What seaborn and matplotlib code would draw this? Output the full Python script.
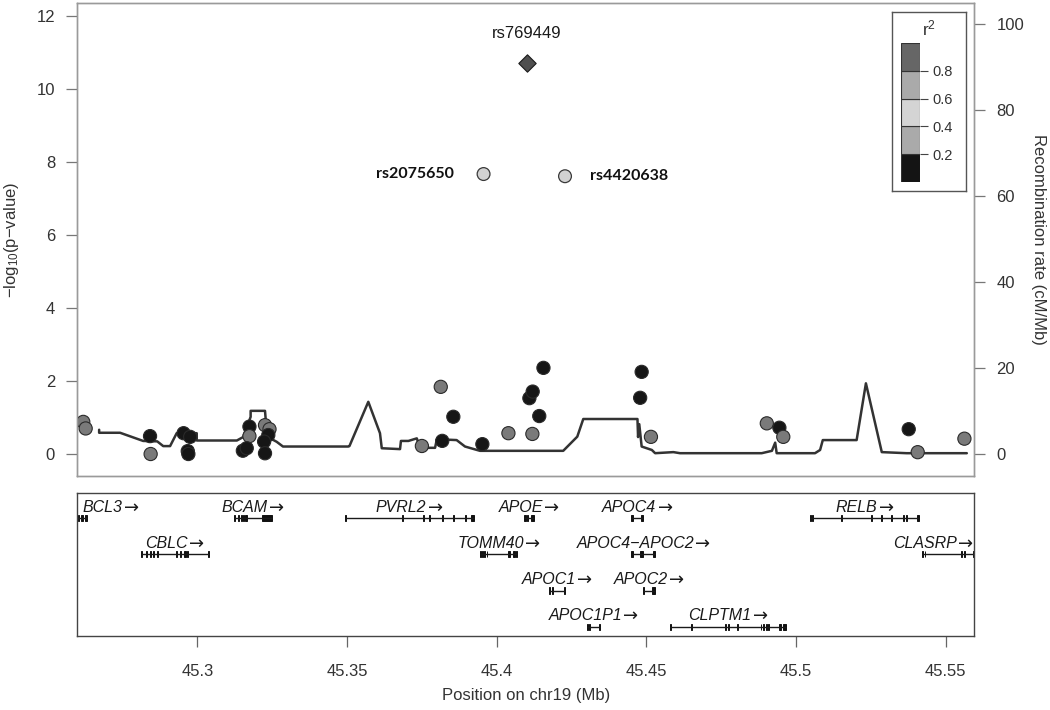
############################################################
# REGIONAL ASSOCIATION PLOT – APOE LOCUS (chr19)
############################################################

import matplotlib
matplotlib.use("Agg")
import pandas as pd
import matplotlib.pyplot as plt
import seaborn as sns

sns.set_style("white")
plt.rcParams["font.family"] = ["Liberation Sans", "DejaVu Sans"]
plt.rcParams["mathtext.fontset"] = "custom"
plt.rcParams["mathtext.rm"] = "Liberation Sans"
plt.rcParams["mathtext.default"] = "regular"

# =========================
# DATA
# =========================
# SNPs (position in Mb, -log10 p, r2 class)
snp_pos = [45.2619, 45.2627, 45.2842, 45.2844, 45.2954, 45.2976, 45.2968, 45.2970,
           45.3174, 45.3174, 45.3152, 45.3165, 45.3226, 45.3241, 45.3237, 45.3223,
           45.3226, 45.3750, 45.3813, 45.3818, 45.3855, 45.3952, 45.4039, 45.4119,
           45.4109, 45.4120, 45.4156, 45.4142, 45.4484, 45.4479, 45.4515, 45.4902,
           45.4944, 45.4957, 45.5376, 45.5406, 45.5562]
snp_logp = [0.88, 0.70, 0.49, 0.00, 0.57, 0.47, 0.08, 0.00,
            0.75, 0.49, 0.09, 0.16, 0.79, 0.68, 0.52, 0.34,
            0.02, 0.22, 1.84, 0.36, 1.02, 0.27, 0.57, 0.55,
            1.53, 1.71, 2.36, 1.04, 2.25, 1.54, 0.47, 0.84,
            0.72, 0.47, 0.68, 0.05, 0.42]
snp_r2 = ["mid", "mid", "low", "mid", "low", "low", "low", "low",
          "low", "mid", "low", "low", "mid", "mid", "low", "low",
          "low", "mid", "mid", "low", "low", "low", "mid", "mid",
          "low", "low", "low", "low", "low", "low", "mid", "mid",
          "low", "mid", "low", "mid", "mid"]

# labelled SNPs
lead_names = ["rs769449", "rs2075650", "rs4420638"]
lead_pos = [45.4100, 45.3956, 45.4228]
lead_logp = [10.71, 7.67, 7.61]
lead_r2 = ["top", "light", "light"]

# recombination rate (cM/Mb)
recomb_pos = [45.2672, 45.2672, 45.2742, 45.2819, 45.2866, 45.2886, 45.2909, 45.2931,
              45.2998, 45.2998, 45.3132, 45.3153, 45.3178, 45.3178, 45.3226, 45.3233,
              45.3265, 45.3286, 45.3504, 45.3508, 45.3571, 45.3610, 45.3616, 45.3677,
              45.3680, 45.3705, 45.3733, 45.3744, 45.3794, 45.3800, 45.3866, 45.3894,
              45.3944, 45.4222, 45.4269, 45.4289, 45.4470, 45.4472, 45.4476, 45.4484,
              45.4518, 45.4529, 45.4590, 45.4612, 45.4885, 45.4919, 45.4930, 45.4935,
              45.5063, 45.5080, 45.5089, 45.5202, 45.5233, 45.5286, 45.5369, 45.5570]
recomb_rate = [5.7, 5.0, 5.0, 3.1, 3.0, 1.9, 1.9, 4.9,
               4.9, 3.2, 3.2, 4.0, 8.7, 10.1, 10.1, 4.1,
               2.9, 1.8, 1.8, 1.9, 12.2, 4.9, 1.4, 1.2,
               3.1, 3.1, 3.7, 1.5, 1.5, 3.5, 3.3, 1.8,
               0.8, 0.8, 4.1, 8.2, 8.2, 4.0, 7.0, 1.8,
               1.0, 0.25, 0.5, 0.25, 0.25, 0.8, 2.7, 0.25,
               0.25, 1.0, 3.3, 3.3, 16.5, 0.5, 0.25, 0.25]

# genes: name, start, end, row, exons
gene_names = ["BCL3", "CBLC", "BCAM", "PVRL2", "TOMM40", "APOE", "APOC1",
              "APOC1P1", "APOC4", "APOC4\u2212APOC2", "APOC2", "CLPTM1", "RELB", "CLASRP"]
gene_start = [45.2510, 45.2811, 45.3123, 45.3493, 45.3944, 45.4090, 45.4175,
              45.4301, 45.4451, 45.4451, 45.4490, 45.4579, 45.5046, 45.5423]
gene_end = [45.2633, 45.3039, 45.3248, 45.3924, 45.4069, 45.4126, 45.4228,
            45.4345, 45.4490, 45.4529, 45.4529, 45.4966, 45.5411, 45.5744]
gene_row = [1, 2, 1, 1, 2, 1, 3, 4, 1, 2, 3, 4, 1, 2]
gene_exons = [
    [(45.2601, 45.2606), (45.2612, 45.2617), (45.2624, 45.2633)],
    [(45.2811, 45.2814), (45.2828, 45.2831), (45.2841, 45.2844), (45.2852, 45.2855),
     (45.2864, 45.2867), (45.2930, 45.2933), (45.2941, 45.2944), (45.2957, 45.2962),
     (45.2965, 45.2968), (45.3036, 45.3039)],
    [(45.3122, 45.3125), (45.3136, 45.3139), (45.3146, 45.3149), (45.3152, 45.3155),
     (45.3158, 45.3161), (45.3163, 45.3166), (45.3215, 45.3248)],
    [(45.3492, 45.3496), (45.3685, 45.3688), (45.3754, 45.3757), (45.3773, 45.3776),
     (45.3817, 45.3821), (45.3854, 45.3857), (45.3893, 45.3896), (45.3913, 45.3924)],
    [(45.3944, 45.3948), (45.3952, 45.3955), (45.3959, 45.3962), (45.3966, 45.3969),
     (45.4038, 45.4043), (45.4055, 45.4060), (45.4064, 45.4069)],
    [(45.4090, 45.4093), (45.4096, 45.4099), (45.4102, 45.4106), (45.4113, 45.4126)],
    [(45.4175, 45.4178), (45.4183, 45.4187), (45.4224, 45.4228)],
    [(45.4301, 45.4304), (45.4307, 45.4311), (45.4341, 45.4345)],
    [(45.4450, 45.4454), (45.4483, 45.4490)],
    [(45.4450, 45.4454), (45.4478, 45.4490), (45.4522, 45.4529)],
    [(45.4489, 45.4492), (45.4518, 45.4529)],
    [(45.4578, 45.4582), (45.4650, 45.4653), (45.4762, 45.4765), (45.4773, 45.4776),
     (45.4804, 45.4807), (45.4881, 45.4884), (45.4890, 45.4893), (45.4898, 45.4901),
     (45.4906, 45.4909), (45.4942, 45.4950), (45.4955, 45.4966)],
    [(45.5045, 45.5048), (45.5054, 45.5057), (45.5151, 45.5154), (45.5251, 45.5254),
     (45.5285, 45.5288), (45.5318, 45.5321), (45.5357, 45.5360), (45.5368, 45.5371),
     (45.5404, 45.5411)],
    [(45.5422, 45.5425), (45.5429, 45.5432), (45.5552, 45.5555), (45.5560, 45.5563),
     (45.5590, 45.5595), (45.5700, 45.5744)],
]

# r2 legend
r2_edges = [0.0, 0.2, 0.4, 0.6, 0.8, 1.0]
r2_colors = ["#141414", "#aaaaaa", "#d4d4d4", "#aaaaaa", "#666666"]

point_colors = {"low": "#161616", "mid": "#7a7a7a", "light": "#d2d2d2", "top": "#4f4f4f"}

XLIM = (45.2599, 45.5595)

# =========================
# FIGURE
# =========================
fig = plt.figure(figsize=(10.5, 7.1), dpi=100)
ax = fig.add_axes([0.0736, 0.3296, 0.8543, 0.6662])
rax = ax.twinx()

snps = pd.DataFrame({"pos": snp_pos, "logp": snp_logp, "r2": snp_r2})
leads = pd.DataFrame({"pos": lead_pos, "logp": lead_logp, "r2": lead_r2, "name": lead_names})
recomb = pd.DataFrame({"pos": recomb_pos, "rate": recomb_rate})

# recombination line on the right axis, behind the points
sns.lineplot(data=recomb, x="pos", y="rate", sort=False, estimator=None,
             color="#333333", linewidth=1.8, ax=rax)
ax.set_zorder(rax.get_zorder() + 1)
ax.patch.set_visible(False)

sns.scatterplot(data=snps, x="pos", y="logp", hue="r2", palette=point_colors,
                s=90, edgecolor="#2a2a2a", linewidth=0.8, legend=False, ax=ax)
sns.scatterplot(data=leads[leads["r2"] == "light"], x="pos", y="logp", hue="r2",
                palette=point_colors, s=85, edgecolor="#3a3a3a", linewidth=0.9,
                legend=False, ax=ax)
sns.scatterplot(data=leads[leads["r2"] == "top"], x="pos", y="logp", hue="r2",
                palette=point_colors, marker="D", s=78, edgecolor="#1a1a1a",
                linewidth=0.8, legend=False, ax=ax)

# labels of lead SNPs
ax.annotate(lead_names[0], (lead_pos[0], lead_logp[0]), xytext=(0, 21),
            textcoords="offset points", ha="center", va="center",
            fontsize=12, color="#1a1a1a")
ax.annotate(lead_names[1], (lead_pos[1], lead_logp[1]), xytext=(-21.5, 0),
            textcoords="offset points", ha="right", va="center",
            fontsize=11.5, fontweight="bold", family=["Lato", "DejaVu Sans"], color="#111111")
ax.annotate(lead_names[2], (lead_pos[2], lead_logp[2]), xytext=(18, 0),
            textcoords="offset points", ha="left", va="center",
            fontsize=11.5, fontweight="bold", family=["Lato", "DejaVu Sans"], color="#111111")

ax.set_xlim(XLIM)
ax.set_ylim(-0.602, 12.356)
rax.set_ylim(-5.05, 104.95)
ax.set_yticks(range(0, 13, 2))
rax.set_yticks(range(0, 101, 20))
ax.set_xticks([])
ax.set_xlabel("")
rax.set_xlabel("")
ax.set_ylabel("\u2212log$_{10}$(p\u2212value)", fontsize=12, color="#333333", labelpad=11)
rax.set_ylabel("Recombination rate (cM/Mb)", fontsize=12, color="#333333",
               rotation=270, va="bottom", labelpad=5)

for a in (ax, rax):
    a.tick_params(axis="y", length=8, width=0.9, color="#777777", pad=8,
                  labelsize=12, labelcolor="#333333")
    for sp in a.spines.values():
        sp.set_color("#9a9a9a")
        sp.set_linewidth(1.0)
ax.tick_params(axis="y", left=True, right=False)
rax.tick_params(axis="y", left=False, right=True)

# =========================
# r2 LEGEND
# =========================
box_ax = fig.add_axes([891.7 / 1050, (710 - 190.7) / 710, 74.3 / 1050, 179 / 710])
box_ax.set_xticks([])
box_ax.set_yticks([])
box_ax.set_facecolor("white")
for sp in box_ax.spines.values():
    sp.set_color("#555555")
    sp.set_linewidth(1.0)
box_ax.text(0.5, 0.905, "r$^2$", transform=box_ax.transAxes, ha="center", va="center",
            fontsize=12.5, color="#333333")

bar_ax = fig.add_axes([901 / 1050, (710 - 182.3) / 710, 19 / 1050, 139.6 / 710])
bar_ax.bar(x=[0] * 5, height=[r2_edges[i + 1] - r2_edges[i] for i in range(5)],
           bottom=r2_edges[:-1], width=1.0, color=r2_colors,
           edgecolor="#333333", linewidth=0.8)
bar_ax.set_xlim(-0.5, 0.5)
bar_ax.set_ylim(0, 1)
bar_ax.set_xticks([])
bar_ax.set_yticks(r2_edges[1:-1])
bar_ax.set_yticklabels([f"{v:.1f}" for v in r2_edges[1:-1]])
bar_ax.yaxis.tick_right()
bar_ax.tick_params(axis="y", length=6, width=0.8, color="#444444", pad=3,
                   labelsize=10.5, labelcolor="#333333")
for sp in bar_ax.spines.values():
    sp.set_visible(False)

# =========================
# GENE TRACK
# =========================
gax = fig.add_axes([0.0736, 0.1046, 0.8543, 0.2006])
gax.set_xlim(XLIM)
gax.set_ylim(-4.25, -0.31)
exon_h = 0.17

gene_labels = []
for name, st, en, row, exons in zip(gene_names, gene_start, gene_end, gene_row, gene_exons):
    gax.hlines(-row, st, en, color="#1a1a1a", linewidth=1.0)
    gax.bar(x=[(a + b) / 2 for a, b in exons], width=[b - a for a, b in exons],
            height=exon_h, bottom=-row - exon_h / 2, color="#111111",
            edgecolor="#111111", linewidth=0.7)
    t = gax.text((st + en) / 2, -row + 0.31, name, ha="left", va="center",
                 fontsize=11.5, fontstyle="italic", color="#1a1a1a", clip_on=False)
    arr = gax.annotate("\u2192", xy=(1, 0.45), xycoords=t, xytext=(1, 0),
                       textcoords="offset points", ha="left", va="center",
                       family="DejaVu Sans", fontsize=13, color="#1a1a1a")
    gene_labels.append((t, arr, (st + en) / 2))

# centre label+arrow on the gene, but keep it inside the panel
fig.canvas.draw()
renderer = fig.canvas.get_renderer()
gbox = gax.get_window_extent(renderer)
for t, arr, mid in gene_labels:
    bb_t = t.get_window_extent(renderer)
    bb_a = arr.get_window_extent(renderer)
    total = bb_a.x1 - bb_t.x0
    mid_px, y_px = gax.transData.transform((mid, t.get_position()[1]))
    left = mid_px - total / 2
    left = max(left, gbox.x0 + 5)
    left = min(left, gbox.x1 - 1 - total)
    t.set_position(gax.transData.inverted().transform((left, y_px)))

gax.set_yticks([])
gax.set_xticks([45.3, 45.35, 45.4, 45.45, 45.5, 45.55])
gax.set_xticklabels(["45.3", "45.35", "45.4", "45.45", "45.5", "45.55"])
gax.tick_params(axis="x", bottom=True, length=8, width=0.9, color="#666666", pad=12.5,
                labelsize=12, labelcolor="#333333")
gax.set_xlabel("Position on chr19 (Mb)", fontsize=12, color="#333333", labelpad=6)
for sp in gax.spines.values():
    sp.set_color("#444444")
    sp.set_linewidth(1.0)

fig.savefig("out.png", dpi=100)
print("Saved out.png")
